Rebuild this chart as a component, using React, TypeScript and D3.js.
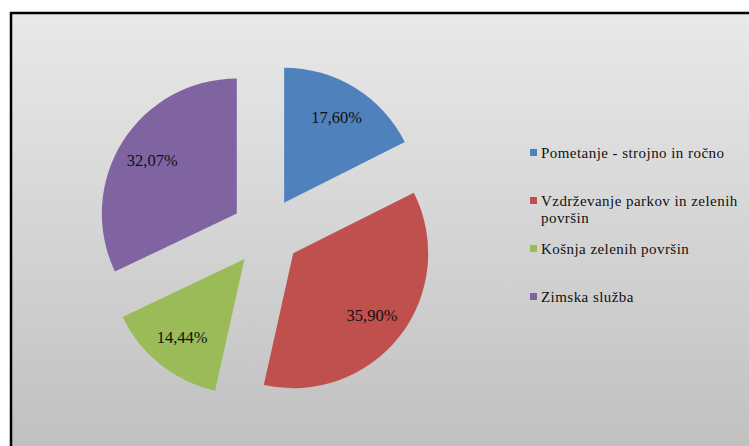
import React from 'react';
import * as d3 from 'd3';

// categories and shares (percent)
const categories = [
  'Pometanje - strojno in ročno',
  'Vzdrževanje parkov in zelenih površin',
  'Košnja zelenih površin',
  'Zimska služba',
];
const shares = [17.6, 35.9, 14.44, 32.07];
const legendLines = [
  ['Pometanje - strojno in ročno'],
  ['Vzdrževanje parkov in zelenih', 'površin'],
  ['Košnja zelenih površin'],
  ['Zimska služba'],
];
const colors = ['#4f81bd', '#c0504d', '#9bbb59', '#8064a2'];

const width = 749;
const height = 446;
// 16-17px Liberation Serif gets swapped for a sans face here, so keep to 15px
const serif = 'Liberation Serif';

export default function App() {
  // pie geometry
  const cx = 266;
  const cy = 232;
  const radius = 135;
  const explode = 34.5;

  const pie = d3.pie<number>().sort(null).value(d => d);
  const arcs = pie(shares);
  const arc = d3.arc<d3.PieArcDatum<number>>().innerRadius(0).outerRadius(radius);
  const labelArc = d3.arc<d3.PieArcDatum<number>>().innerRadius(100).outerRadius(100);
  const fmt = (v: number) => d3.format('.2f')(v).replace('.', ',') + '%';

  return (
    <div>
      <svg width={width} height={height} style={{ position: 'absolute', left: 0, top: 0 }}>
        <defs>
          <linearGradient id="bg" x1="0" y1="0" x2="0" y2="1">
            <stop offset="0%" stopColor="#e9e9e9" />
            <stop offset="100%" stopColor="#bebebe" />
          </linearGradient>
        </defs>
        <rect x={0} y={0} width={width} height={height} fill="#fff" />
        <rect x={11} y={13} width={760} height={460} fill="url(#bg)" stroke="#000" strokeWidth={2.5} />

        <g transform={`translate(${cx},${cy})`}>
          {arcs.map((d, i) => {
            const mid = (d.startAngle + d.endAngle) / 2;
            const [lx, ly] = labelArc.centroid(d);
            return (
              <g key={i} transform={`translate(${explode * Math.sin(mid)},${-explode * Math.cos(mid)})`}>
                <path d={arc(d) as string} fill={colors[i]} />
                <text
                  transform={`translate(${lx},${ly}) scale(1.1)`}
                  dy="0.35em"
                  textAnchor="middle"
                  fill="#111"
                  style={{ fontFamily: serif, fontSize: '15px' }}
                >
                  {fmt(d.data)}
                </text>
              </g>
            );
          })}
        </g>

        <g>
          {categories.map((c, i) => (
            <g key={c} transform={`translate(530,${158 + i * 48})`}>
              <rect x={0} y={-9} width={7} height={7} fill={colors[i]} />
              <text fill="#111" style={{ fontFamily: serif, fontSize: '15px', letterSpacing: '0.45px' }}>
                {legendLines[i].map((line, j) => (
                  <tspan key={j} x={11} y={j * 16.5}>{line}</tspan>
                ))}
              </text>
            </g>
          ))}
        </g>
      </svg>
    </div>
  );
}
